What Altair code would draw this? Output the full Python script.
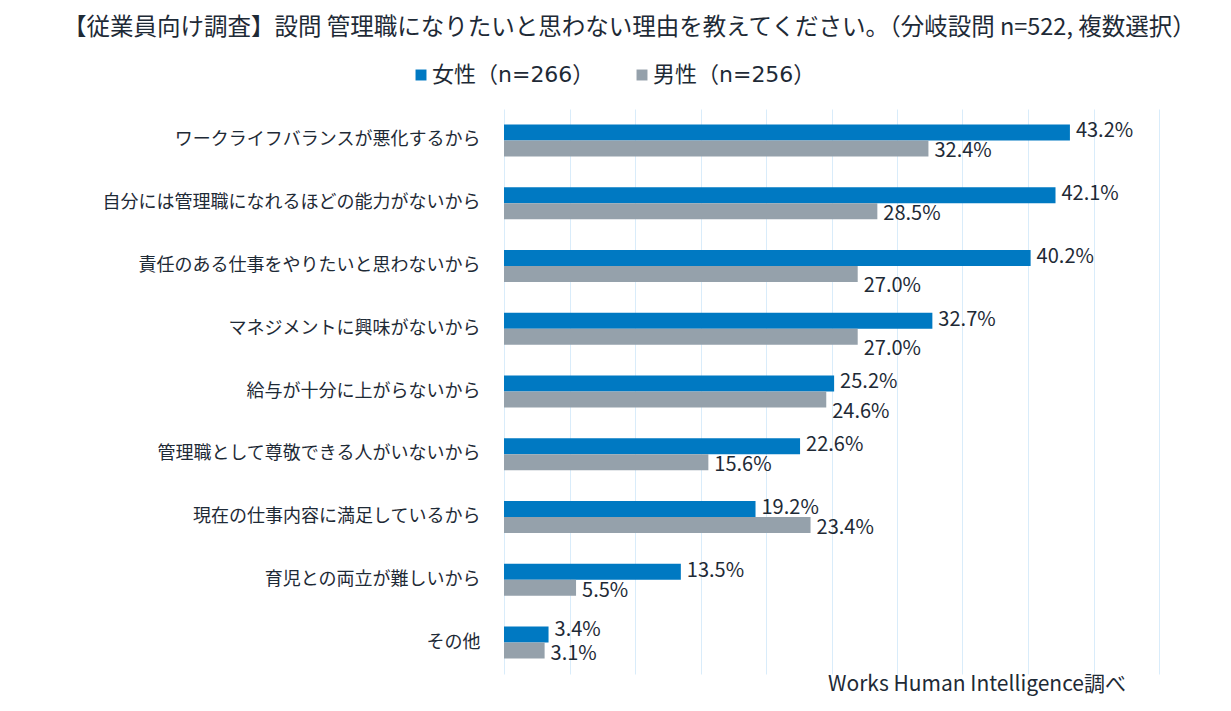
import altair as alt
import pandas as pd

categories = [
    "ワークライフバランスが悪化するから",
    "自分には管理職になれるほどの能力がないから",
    "責任のある仕事をやりたいと思わないから",
    "マネジメントに興味がないから",
    "給与が十分に上がらないから",
    "管理職として尊敬できる人がいないから",
    "現在の仕事内容に満足しているから",
    "育児との両立が難しいから",
    "その他",
]
female = [43.2, 42.1, 40.2, 32.7, 25.2, 22.6, 19.2, 13.5, 3.4]
male = [32.4, 28.5, 27.0, 27.0, 24.6, 15.6, 23.4, 5.5, 3.1]
series = ["女性（n=266）", "男性（n=256）"]
colors = ["#0079c2", "#95a1ab"]
title_text = "【従業員向け調査】設問 管理職になりたいと思わない理由を教えてください。（分岐設問 n=522, 複数選択）"
footer_text = "Works Human Intelligence調べ"
# label nudges, as in the source chart
lowered_male_labels = [categories[2], categories[3], categories[4]]
raised_female_labels = [categories[8]]

rows = []
for c, f, m in zip(categories, female, male):
    rows.append({"cat": c, "sex": series[0], "v": f})
    rows.append({"cat": c, "sex": series[1], "v": m})
df = pd.DataFrame(rows)

CJK = "Noto Sans CJK JP"
MIX = "DejaVu Sans, Noto Sans CJK JP"
TXT = "#1e2a36"

y_enc = alt.Y("cat:N", sort=categories, title=None,
              scale=alt.Scale(paddingInner=0.49, paddingOuter=0.245),
              axis=alt.Axis(labelFontSize=18, labelFont=CJK, labelColor=TXT,
                            ticks=False, domain=False, labelPadding=24, labelLimit=500))
x_enc = alt.X("v:Q", title=None,
              scale=alt.Scale(domain=[0, 50], nice=False),
              axis=alt.Axis(values=list(range(0, 55, 5)), labels=False, ticks=False,
                            domain=False, grid=True, gridColor="#d9ecfa", gridWidth=1))
yoff = alt.YOffset("sex:N", sort=series, scale=alt.Scale(paddingInner=0, paddingOuter=0))

bars = alt.Chart(df).mark_bar().encode(
    x=x_enc, y=y_enc, yOffset=yoff,
    color=alt.Color("sex:N", sort=series,
                    scale=alt.Scale(domain=series, range=colors),
                    legend=alt.Legend(title=None, orient="none", direction="horizontal",
                                      legendX=-94, legendY=-45, symbolType="square",
                                      symbolSize=120, symbolStrokeWidth=0,
                                      labelFontSize=22, labelFont=MIX, labelColor=TXT,
                                      labelOffset=0, columnPadding=36, labelLimit=300)),
)

base_lbl = alt.Chart(df).transform_calculate(
    lbl="format(datum.v, '.1f') + '%'"
)


def label_layer(filt, dy):
    return base_lbl.transform_filter(filt).mark_text(
        align="left", baseline="middle", dx=6, dy=dy,
        fontSize=20, font=CJK, color=TXT).encode(
        x="v:Q", y=alt.Y("cat:N", sort=categories),
        yOffset=alt.YOffset("sex:N", sort=series),
        text="lbl:N",
    )


def AND(*ps):
    return alt.LogicalAndPredicate(**{"and": list(ps)})


def NOT(p):
    return alt.LogicalNotPredicate(**{"not": p})


lowered = alt.FieldOneOfPredicate(field="cat", oneOf=lowered_male_labels)
raised = alt.FieldOneOfPredicate(field="cat", oneOf=raised_female_labels)
is_f = alt.FieldEqualPredicate(field="sex", equal=series[0])
is_m = alt.FieldEqualPredicate(field="sex", equal=series[1])

lab_f = label_layer(AND(is_f, NOT(raised)), -1)
lab_f_up = label_layer(AND(is_f, raised), -5)
lab_m = label_layer(AND(is_m, NOT(lowered)), 3)
lab_m_low = label_layer(AND(is_m, lowered), 12)

footer = alt.Chart(pd.DataFrame({"t": [footer_text]})).mark_text(
    align="left", baseline="middle", fontSize=21, font=CJK, color=TXT
).encode(x=alt.value(324), y=alt.value(576), text="t:N")

chart = alt.layer(bars, lab_f, lab_f_up, lab_m, lab_m_low, footer).properties(
    width=655, height=565,
    background="white",
    autosize=alt.AutoSizeParams(type="none"),
    padding={"left": 496, "top": 101, "right": 64, "bottom": 28},
    title=alt.TitleParams(title_text, anchor="start", frame="group", dx=-441,
                          offset=25, fontSize=23.5, font=CJK, color=TXT, fontWeight="normal"),
).configure_view(stroke=None)

chart.save("out.html", embed_options={"renderer": "svg", "actions": False})
